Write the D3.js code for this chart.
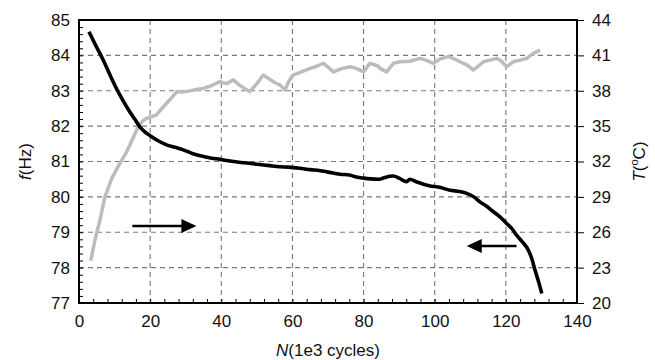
<!DOCTYPE html>
<html>
<head>
<meta charset="utf-8">
<script src="https://cdn.jsdelivr.net/npm/d3@7"></script>
<style>
  body { margin: 0; background: #fff; }
  svg text { font-family: "Liberation Sans", Arial, sans-serif; }
</style>
</head>
<body>
<div class="chart"></div>
<script>
// frequency f (Hz) vs cycles N (1e3)
const fN = [2.8, 4.5, 6.8, 8.7, 10.6, 12.5, 14.3, 15.8, 17.1, 18.5, 20, 22, 24.6, 27, 29.3, 32, 35, 37, 39.6, 42,
  45, 48, 50, 53, 56.5, 59, 62, 65, 67.8, 70, 73.4, 76, 78, 80, 82, 84.6, 86, 88.4, 90, 92.1,
  93, 95, 98.7, 101, 104.3, 107, 109, 111, 112.7, 114.5, 116.5, 118.5, 120.2, 121.7, 123, 124.7, 126.3, 127.3, 128.2, 129.2, 130.1];
const fVal = [84.67, 84.32, 83.87, 83.45, 83.05, 82.7, 82.4, 82.18, 81.98, 81.84, 81.73, 81.6, 81.47, 81.4, 81.33, 81.22, 81.14, 81.1, 81.06, 81.02,
  80.98, 80.95, 80.92, 80.89, 80.85, 80.84, 80.81, 80.77, 80.74, 80.7, 80.64, 80.62, 80.56, 80.53, 80.51, 80.5, 80.55, 80.59, 80.53, 80.43,
  80.5, 80.42, 80.31, 80.28, 80.19, 80.15, 80.1, 80.0, 79.86, 79.74, 79.58, 79.42, 79.25, 79.1, 78.92, 78.72, 78.5, 78.25, 77.93, 77.6, 77.27];

// temperature T (°C) vs cycles N (1e3)
const tN = [3.3, 4.5, 5.9, 7.3, 9.2, 11.5, 13, 14.3, 15.5, 16.7, 17.8, 19, 20.5, 21.8, 23, 24.6, 26, 27.5, 29, 31.2,
  33, 35, 37, 39.6, 41.5, 43.4, 45, 46.5, 48, 50, 51.8, 53.5, 55, 56.5, 57.9, 59, 60.2, 62.5, 65, 67,
  68.7, 70, 71.5, 74, 76.2, 78, 80, 81.8, 84, 84.6, 86.5, 88.4, 90.2, 93, 95.9, 97.5, 99.6, 101.5, 103.8, 105.5,
  107.1, 109, 110.9, 112.3, 113.7, 115.5, 117.4, 118.8, 120.2, 122.1, 124, 125.9, 127.7, 128.7, 129.6];
const tVal = [23.59, 25.34, 27.04, 29.0, 30.57, 31.85, 32.6, 33.4, 34.2, 34.96, 35.4, 35.67, 35.8, 35.95, 36.4, 36.94, 37.4, 37.93, 37.9, 37.99,
  38.1, 38.2, 38.4, 38.78, 38.6, 38.92, 38.5, 38.2, 37.93, 38.6, 39.33, 39.0, 38.7, 38.49, 38.06, 38.8, 39.33, 39.6, 39.9, 40.1,
  40.33, 40.0, 39.6, 39.9, 40.04, 39.9, 39.6, 40.33, 40.1, 39.9, 39.6, 40.33, 40.46, 40.5, 40.75, 40.6, 40.33, 40.7, 40.89, 40.7,
  40.46, 40.2, 39.76, 40.1, 40.46, 40.6, 40.75, 40.5, 40.04, 40.46, 40.6, 40.75, 41.18, 41.3, 41.46];

const xTicks = [0, 20, 40, 60, 80, 100, 120, 140];
const fTicks = [77, 78, 79, 80, 81, 82, 83, 84, 85];
const tTicks = [20, 23, 26, 29, 32, 35, 38, 41, 44];

// arrows: which curve belongs to which axis
const arrows = [
  { from: 15, to: 33, f: 79.18 },
  { from: 123, to: 109, f: 78.61 }
];

const width = 655, height = 360;
const margin = { top: 20, right: 78, bottom: 57, left: 79 };
const w = width - margin.left - margin.right;
const h = height - margin.top - margin.bottom;

const svg = d3.select(".chart").append("svg")
  .attr("width", width).attr("height", height);
const g = svg.append("g").attr("transform", `translate(${margin.left},${margin.top})`);

const x = d3.scaleLinear().domain([0, 140]).range([0, w]);
const yF = d3.scaleLinear().domain([77, 85]).range([h, 0]);
const yT = d3.scaleLinear().domain([20, 44]).range([h, 0]);

// grid
g.append("g").selectAll("line").data(xTicks.slice(1, -1)).join("line")
  .attr("x1", d => x(d)).attr("x2", d => x(d)).attr("y1", 0).attr("y2", h)
  .attr("stroke", "#777").attr("stroke-width", 1.1).attr("stroke-dasharray", "5,4");
g.append("g").selectAll("line").data(fTicks.slice(1, -1)).join("line")
  .attr("x1", 0).attr("x2", w).attr("y1", d => yF(d)).attr("y2", d => yF(d))
  .attr("stroke", "#777").attr("stroke-width", 1.1).attr("stroke-dasharray", "5,4");

// minor ticks, inward
g.append("g").call(d3.axisTop(x).tickValues(d3.range(0, 141, 4)).tickSize(4).tickFormat(""))
  .attr("transform", `translate(0,${h})`)
  .call(a => a.select(".domain").remove());
g.append("g").call(d3.axisRight(yF).tickValues(d3.range(77, 85.01, 0.2)).tickSize(4).tickFormat(""))
  .call(a => a.select(".domain").remove());

// right axis outward ticks
const rAxis = g.append("g").attr("transform", `translate(${w},0)`)
  .call(d3.axisRight(yT).tickValues(tTicks).tickSize(7).tickPadding(8));
rAxis.select(".domain").remove();
rAxis.selectAll("text").attr("font-size", 17).attr("fill", "#111");

const lAxis = g.append("g")
  .call(d3.axisLeft(yF).tickValues(fTicks).tickSize(0).tickPadding(9));
lAxis.select(".domain").remove();
lAxis.selectAll("text").attr("font-size", 17).attr("fill", "#111");

const bAxis = g.append("g").attr("transform", `translate(0,${h})`)
  .call(d3.axisBottom(x).tickValues(xTicks).tickSize(0).tickPadding(12));
bAxis.select(".domain").remove();
bAxis.selectAll("text").attr("font-size", 17).attr("fill", "#111");

// curves
const tLine = d3.line().x(d => x(d[0])).y(d => yT(d[1]));
const fLine = d3.line().x(d => x(d[0])).y(d => yF(d[1])).curve(d3.curveMonotoneX);

g.append("path").datum(d3.zip(tN, tVal)).attr("d", tLine)
  .attr("fill", "none").attr("stroke", "#bcbcbc").attr("stroke-width", 3.5)
  .attr("stroke-linejoin", "round");
g.append("path").datum(d3.zip(fN, fVal)).attr("d", fLine)
  .attr("fill", "none").attr("stroke", "#000").attr("stroke-width", 3.6)
  .attr("stroke-linejoin", "round");

// arrows
arrows.forEach(a => {
  const dir = a.to > a.from ? 1 : -1;
  const x0 = x(a.from), x1 = x(a.to), yy = yF(a.f);
  g.append("line").attr("x1", x0).attr("x2", x1 - dir * 12).attr("y1", yy).attr("y2", yy)
    .attr("stroke", "#000").attr("stroke-width", 2.5);
  g.append("path")
    .attr("d", `M${x1},${yy} L${x1 - dir * 15},${yy - 7} L${x1 - dir * 15},${yy + 7} Z`)
    .attr("fill", "#000");
});

// frame
g.append("rect").attr("width", w).attr("height", h)
  .attr("fill", "none").attr("stroke", "#000").attr("stroke-width", 2);

// axis titles
const fl = svg.append("text").attr("transform", `translate(31,${margin.top + h / 2}) rotate(-90)`)
  .attr("text-anchor", "middle").attr("font-size", 17).attr("fill", "#111");
fl.append("tspan").attr("font-style", "italic").text("f");
fl.append("tspan").text("(Hz)");

const tl = svg.append("text").attr("transform", `translate(645,${margin.top + h / 2}) rotate(-90)`)
  .attr("text-anchor", "middle").attr("font-size", 17).attr("fill", "#111");
tl.append("tspan").attr("font-style", "italic").text("T");
tl.append("tspan").text("(");
tl.append("tspan").attr("font-size", 11).attr("dy", -7).text("o");
tl.append("tspan").attr("dy", 7).text("C)");

const nl = svg.append("text").attr("x", margin.left + w / 2).attr("y", 356)
  .attr("text-anchor", "middle").attr("font-size", 17).attr("fill", "#111");
nl.append("tspan").attr("font-style", "italic").text("N");
nl.append("tspan").text("(1e3 cycles)");
</script>
</body>
</html>
